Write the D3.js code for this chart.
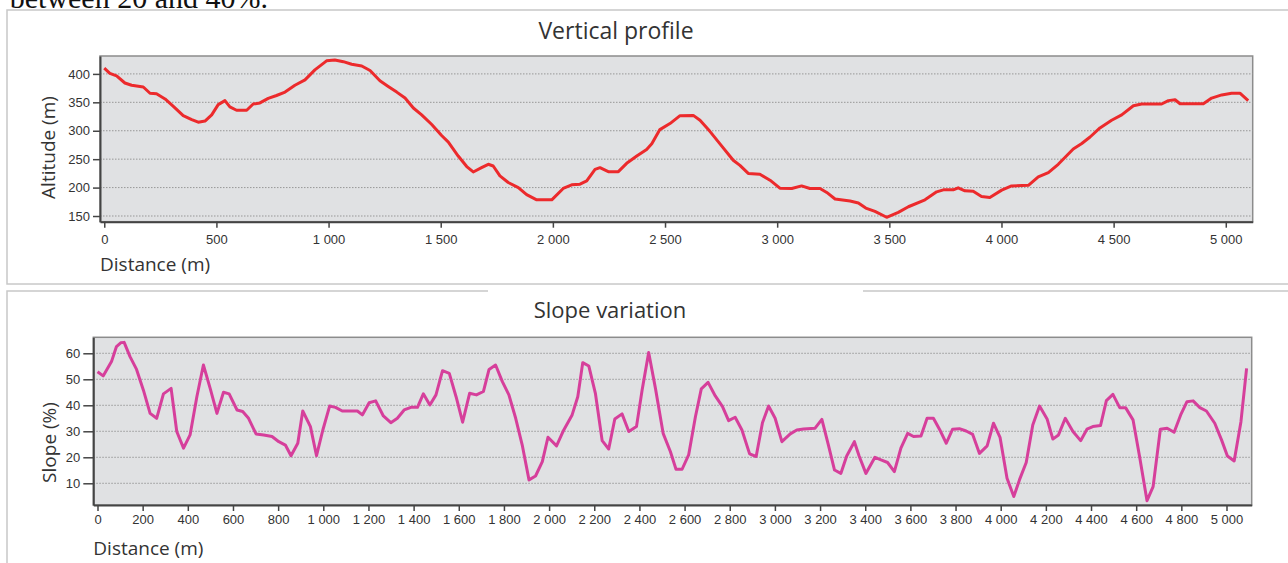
<!DOCTYPE html>
<html>
<head>
  <meta charset="utf-8">
  <script src="https://d3js.org/d3.v7.min.js"></script>
  <style>
    body { margin: 0; background: #fff; overflow: hidden; }
    svg { display: block; }
    .tick text { font-family: "Liberation Sans", Arial, sans-serif; font-size: 13px; fill: #333; }
    .label { font-family: "Open Sans", sans-serif; fill: #333; }
  </style>
</head>
<body>
<script>
  // Vertical profile (distance in m, altitude in m)
  var profileDist = [0, 25, 55, 92, 122, 174, 204, 233, 271, 308, 352, 390, 419, 449, 479, 508, 538, 560, 590, 635,
    664, 694, 731, 768, 806, 850, 895, 939, 991, 1028, 1066, 1103, 1148, 1185, 1229, 1266, 1304, 1341, 1378, 1415,
    1460, 1504, 1534, 1578, 1616, 1645, 1682, 1712, 1734, 1764, 1801, 1846, 1883, 1928, 1995, 2046, 2084, 2121, 2151,
    2188, 2210, 2247, 2292, 2329, 2374, 2418, 2441, 2477, 2522, 2567, 2626, 2656, 2700, 2745, 2804, 2834, 2871, 2923,
    2968, 3012, 3065, 3109, 3146, 3191, 3221, 3258, 3325, 3362, 3395, 3436, 3488, 3540, 3585, 3659, 3711, 3741, 3785,
    3807, 3837, 3874, 3911, 3948, 4001, 4045, 4120, 4164, 4209, 4253, 4320, 4358, 4395, 4439, 4491, 4536, 4588, 4625,
    4714, 4744, 4774, 4796, 4900, 4937, 4982, 5026, 5063, 5100];
  var profileAlt = [410, 401, 396.5, 384, 380, 377, 366, 365, 356, 343, 326.6, 319.6, 315, 317, 328, 346, 353, 342, 336, 336,
    347, 349, 357, 362, 368, 380, 389.5, 407, 423, 424.5, 421.5, 417, 414, 406, 388, 378, 368, 357.5, 340, 328,
    311, 291.6, 280, 255.5, 237, 227.5, 235, 241, 238, 220.5, 209, 200, 187.5, 178.5, 178.5, 198.5, 204.8, 206, 211.8,
    232, 235, 228, 228, 242.7, 255.5, 267, 277, 302, 312.6, 326.6, 327, 318.4, 299, 277, 248, 239, 225, 223.5,
    213, 199, 198.5, 203, 198.5, 198.5, 191.5, 180, 176.3, 173, 164, 158, 147.8, 156.5, 166.3, 178.5, 192.5, 196, 196,
    199.5, 194.3, 193.7, 184.5, 182.7, 195.5, 203, 204, 218.7, 226.4, 241, 268, 277.6, 289, 305, 318.4, 327.8, 344, 347,
    347, 353, 354.5, 347.5, 347.5, 357.5, 363, 366, 366, 353];

  // Slope variation (distance in m, slope in %)
  var slopeDist = [0, 25, 62, 84, 104, 118, 144, 173, 203, 233, 262, 292, 326, 351, 381, 410, 440, 469, 499, 529,
    558, 583, 618, 643, 669, 702, 736, 773, 803, 832, 857, 887, 909, 943, 970, 998, 1028, 1054, 1084, 1151,
    1173, 1203, 1232, 1266, 1299, 1328, 1358, 1388, 1417, 1443, 1472, 1499, 1528, 1558, 1588, 1617, 1648, 1678, 1709, 1734,
    1763, 1793, 1822, 1852, 1881, 1911, 1940, 1970, 1995, 2033, 2065, 2102, 2127, 2149, 2176, 2205, 2235, 2264, 2291, 2323,
    2353, 2387, 2412, 2441, 2471, 2505, 2537, 2562, 2589, 2618, 2648, 2674, 2704, 2736, 2768, 2795, 2824, 2854, 2888, 2917,
    2945, 2972, 3001, 3031, 3068, 3097, 3127, 3178, 3208, 3237, 3264, 3292, 3318, 3352, 3373, 3403, 3443, 3470, 3499, 3529,
    3558, 3588, 3614, 3647, 3674, 3702, 3733, 3759, 3787, 3817, 3847, 3876, 3906, 3940, 3968, 3997, 4028, 4058, 4083, 4113,
    4142, 4172, 4206, 4231, 4256, 4286, 4320, 4354, 4382, 4408, 4442, 4468, 4497, 4527, 4553, 4586, 4615, 4648, 4675, 4707,
    4737, 4768, 4797, 4825, 4852, 4882, 4911, 4948, 4978, 5004, 5034, 5064, 5089];
  var slopeVal = [52.9, 51.3, 56.8, 62.6, 64.1, 64.2, 58.7, 53.8, 45.9, 36.9, 35, 44.4, 46.5, 29.9, 23.5, 28.6, 43.3, 55.5, 46.5, 36.9,
    45, 44.4, 38.2, 37.6, 35, 29, 28.6, 28, 26, 24.7, 20.6, 25.4, 37.8, 31.8, 20.6, 30.5, 39.7, 39.2, 37.8, 37.8,
    36.3, 41, 41.7, 35.9, 33.3, 35, 38.2, 39.2, 39.2, 44.4, 40.1, 44, 53.3, 52.3, 43.3, 33.5, 44.6, 44, 45.3, 53.8,
    55.5, 49.1, 44, 35, 24.7, 11.3, 12.8, 18.3, 27.7, 24.4, 30.5, 36.3, 43.3, 56.4, 55.1, 44.6, 26.4, 23.2, 34.7, 36.7,
    29.9, 31.8, 45.9, 60.3, 46.5, 29.2, 22.2, 15.4, 15.4, 20.9, 35.6, 46.3, 48.8, 43.6, 39.5, 34.1, 35.4, 30.5, 21.3, 20.3,
    33.3, 39.7, 35, 26, 29, 30.5, 30.9, 31.2, 34.6, 24.7, 15.1, 13.8, 20.5, 26, 20.5, 13.8, 20, 19, 18, 14.5,
    23.5, 29.2, 28, 28.2, 35, 35, 30.1, 25.4, 30.8, 31, 30.1, 28.8, 21.5, 24.4, 33.1, 27.7, 11.9, 4.9, 11.3, 18,
    32.4, 39.7, 34.6, 27, 28.6, 35, 29.9, 26.4, 30.8, 31.8, 32.2, 41.8, 44.2, 39.1, 39.1, 34.4, 20.3, 3.3, 8.7, 30.8,
    31.2, 29.6, 36.3, 41.4, 41.7, 39.1, 37.8, 33.1, 26.7, 20.5, 18.6, 33.7, 54.2];

  // tick labels
  var profileXTicks = [0, 500, 1000, 1500, 2000, 2500, 3000, 3500, 4000, 4500, 5000];
  var profileYTicks = [150, 200, 250, 300, 350, 400];
  var slopeXTicks = [0, 200, 400, 600, 800, 1000, 1200, 1400, 1600, 1800, 2000, 2200, 2400, 2600, 2800,
    3000, 3200, 3400, 3600, 3800, 4000, 4200, 4400, 4600, 4800, 5000];
  var slopeYTicks = [10, 20, 30, 40, 50, 60];

  var fmt = d3.formatLocale({ decimal: ",", thousands: " ", grouping: [3], currency: ["", ""] }).format(",d");

  var svg = d3.select("body").append("svg")
    .attr("width", 1288)
    .attr("height", 563);

  // bits of the page the figure was cut from
  svg.append("text")
    .attr("x", 268).attr("y", 8)
    .attr("text-anchor", "end")
    .style("font-family", "'Liberation Serif', serif")
    .style("font-size", "30px")
    .style("fill", "#111")
    .text("between 20 and 40%.");

  var frame = "#c8c8c8";
  svg.append("rect").attr("x", 7).attr("y", 10).attr("width", 1320).attr("height", 274)
    .attr("fill", "none").attr("stroke", frame).attr("stroke-width", 1.5);
  svg.append("path").attr("d", "M7,600V291H488M863,291H1300")
    .attr("fill", "none").attr("stroke", frame).attr("stroke-width", 1.5);

  function drawPanel(p) {
    var x = d3.scaleLinear().domain(p.xDomain).range([p.left, p.right]);
    var y = d3.scaleLinear().domain(p.yDomain).range([p.bottom, p.top]);
    var g = svg.append("g");

    g.append("rect")
      .attr("x", p.left).attr("y", p.top)
      .attr("width", p.right - p.left).attr("height", p.bottom - p.top)
      .attr("fill", "#e0e1e3")
      .attr("stroke", "#8c8c8c")
      .attr("stroke-width", 1.5);

    // dotted grid
    g.selectAll("line.grid").data(p.yTicks).enter().append("line")
      .attr("class", "grid")
      .attr("x1", p.left).attr("x2", p.right)
      .attr("y1", function(d) { return y(d); })
      .attr("y2", function(d) { return y(d); })
      .attr("stroke", "#979797")
      .attr("stroke-width", 1)
      .attr("stroke-dasharray", "1.5,1.5");

    var xa = g.append("g")
      .attr("transform", "translate(0," + p.bottom + ")")
      .call(d3.axisBottom(x).tickValues(p.xTicks).tickFormat(fmt).tickSize(6).tickSizeOuter(0).tickPadding(p.xPad));
    var ya = g.append("g")
      .attr("transform", "translate(" + p.left + ",0)")
      .call(d3.axisLeft(y).tickValues(p.yTicks).tickSize(p.yTick).tickSizeOuter(0).tickPadding(3));
    [xa, ya].forEach(function(a) {
      a.select(".domain").attr("stroke", "#444").attr("stroke-width", 2);
      a.selectAll(".tick line").attr("stroke", "#444").attr("stroke-width", 1.5);
    });
    xa.selectAll(".tick text").attr("dy", "0.71em");

    var line = d3.line()
      .x(function(d) { return x(d[0]); })
      .y(function(d) { return y(d[1]); });
    g.append("path")
      .datum(d3.zip(p.xs, p.ys))
      .attr("d", line)
      .attr("fill", "none")
      .attr("stroke", p.color)
      .attr("stroke-width", 3)
      .attr("stroke-linejoin", "round");

    g.append("text").attr("class", "label")
      .attr("x", p.titleX).attr("y", p.titleY)
      .attr("text-anchor", "middle")
      .style("font-size", p.titleSize + "px")
      .text(p.title);
    g.append("text").attr("class", "label")
      .attr("x", p.left).attr("y", p.xTitleY)
      .style("font-size", "19px")
      .text("Distance (m)");
    g.append("text").attr("class", "label")
      .attr("transform", "translate(" + p.yTitleX + "," + p.yTitleY + ") rotate(-90)")
      .attr("text-anchor", "middle")
      .style("font-size", "19px")
      .text(p.yTitle);
  }

  drawPanel({
    left: 100, right: 1252.7, top: 56, bottom: 221.7,
    xDomain: [-19, 5120], yDomain: [140, 431.5],
    xTicks: profileXTicks, yTicks: profileYTicks, xPad: 7, yTick: 7,
    xs: profileDist, ys: profileAlt, color: "#ec2a2c",
    title: "Vertical profile", titleX: 616, titleY: 39, titleSize: 23,
    xTitleY: 271, yTitle: "Altitude (m)", yTitleX: 55, yTitleY: 147.5
  });

  drawPanel({
    left: 93.3, right: 1251.7, top: 337.3, bottom: 505,
    xDomain: [-18.6, 5111.6], yDomain: [1.65, 66.15],
    xTicks: slopeXTicks, yTicks: slopeYTicks, xPad: 4, yTick: 10,
    xs: slopeDist, ys: slopeVal, color: "#d63f9b",
    title: "Slope variation", titleX: 610, titleY: 318, titleSize: 22,
    xTitleY: 555, yTitle: "Slope (%)", yTitleX: 56, yTitleY: 442.5
  });
</script>
</body>
</html>
